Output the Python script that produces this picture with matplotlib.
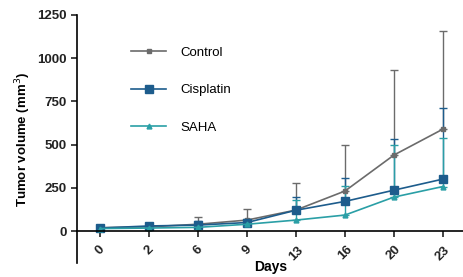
import matplotlib.pyplot as plt
from matplotlib.lines import Line2D

plt.rcParams['font.family'] = ['Liberation Sans', 'DejaVu Sans']

days = ['0', '2', '6', '9', '13', '16', '20', '23']

control = [20, 25, 40, 64, 122, 232, 440, 590]
control_top = [25, 30, 80, 127, 278, 498, 932, 1157]

cisplatin = [18, 30, 35, 50, 121, 172, 237, 301]
cisplatin_top = [22, 38, 60, 70, 198, 307, 532, 711]

saha = [15, 18, 22, 40, 64, 93, 197, 258]
saha_top = [18, 22, 30, 50, 180, 260, 500, 538]

series = [
    ('Control', control, control_top, '#6b6b6b', 's', 3),
    ('Cisplatin', cisplatin, cisplatin_top, '#1d5c8c', 's', 5.5),
    ('SAHA', saha, saha_top, '#2a9fa6', '^', 3.5),
]

fig = plt.figure(figsize=(4.64, 2.77), dpi=100)
ax = fig.add_axes([0.166, 0.05, 0.834, 0.896])
ax.spines['top'].set_visible(False)
ax.spines['right'].set_visible(False)
ax.spines['bottom'].set_position(('data', 0))
ax.spines['left'].set_linewidth(1.2)
ax.spines['bottom'].set_linewidth(1.2)

x = list(range(len(days)))
handles = []
for name, mean, top, col, mk, ms in series:
    err = [t - m for t, m in zip(top, mean)]
    ax.errorbar(x, mean, yerr=[[0] * len(mean), err], color=col, marker=mk,
                markersize=ms, linewidth=1.2, elinewidth=1.0, capsize=3,
                capthick=1.0)
    handles.append(Line2D([], [], color=col, marker=mk, markersize=ms,
                          linewidth=1.2, label=name))

ax.set_xlim(-0.47, 7.43)
ax.set_ylim(-185, 1250)
ax.set_yticks([0, 250, 500, 750, 1000, 1250])
ax.set_xticks(x)
ax.set_xticklabels(days, rotation=45, ha='center',
                   fontweight='bold', fontsize=9.5)
for lab in ax.get_yticklabels():
    lab.set_fontweight('bold')
    lab.set_fontsize(9.5)
ax.tick_params(length=4, width=1.2, colors='#222222')
ax.tick_params(axis='x', pad=5)

ax.set_ylabel('Tumor volume (mm$^3$)', fontweight='bold', fontsize=9.5,
              labelpad=3)
ax.set_xlabel('Days', fontweight='bold', fontsize=10, labelpad=-2)

ax.legend(handles=handles, loc='upper left', bbox_to_anchor=(0.11, 0.92),
          frameon=False, fontsize=9.5, handlelength=2.6, handletextpad=1.1,
          labelspacing=1.9)

fig.savefig('out.png', dpi=100)
